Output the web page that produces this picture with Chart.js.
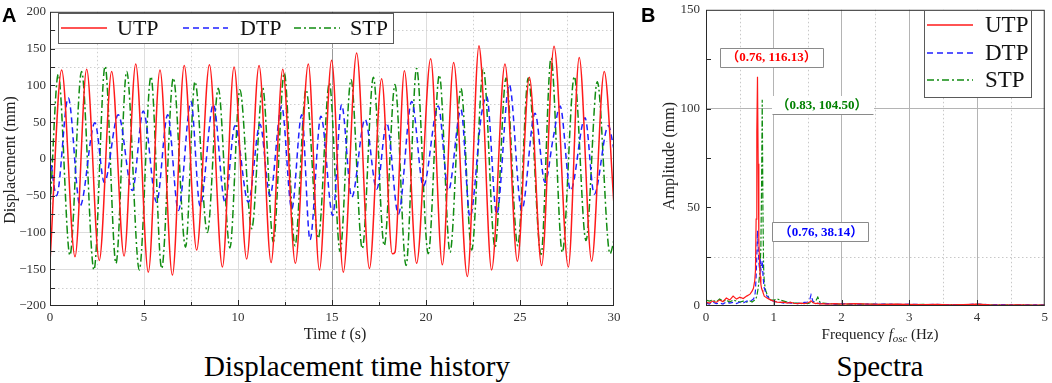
<!DOCTYPE html>
<html><head><meta charset="utf-8">
<script src="https://cdn.jsdelivr.net/npm/chart.js@4.4.0/dist/chart.umd.min.js"></script>
<style>
html,body{margin:0;padding:0;background:#fff;}
body{width:1052px;height:383px;position:relative;overflow:hidden;font-family:"Liberation Serif",serif;color:#222;}
canvas{position:absolute;}
#cA{left:0;top:0;}
#cB{left:640px;top:-4px;}
.t{position:absolute;white-space:nowrap;line-height:1;}
.lab{font-family:"Liberation Sans",Arial,sans-serif;font-weight:bold;font-size:20px;color:#000;}
.cap{font-size:29px;color:#000;transform:translateX(-50%);}
.ax{font-size:16px;color:#222;transform:translateX(-50%);}
.ay{font-size:16px;color:#222;transform:translate(-50%,-50%) rotate(-90deg);}
sub{font-size:72%;vertical-align:-0.28em;line-height:0;}
</style></head>
<body>
<canvas id="cA" width="640" height="340"></canvas>
<canvas id="cB" width="412" height="344"></canvas>
<div class="t lab" style="left:2px;top:5px;">A</div>
<div class="t lab" style="left:641px;top:5px;">B</div>
<div class="t ay" style="left:10px;top:160px;">Displacement (mm)</div>
<div class="t ay" style="left:669px;top:156px;">Amplitude (mm)</div>
<div class="t ax" style="left:335px;top:326px;">Time <i>t</i> (s)</div>
<div class="t ax" style="left:880px;top:327px;font-size:15px;">Frequency <i>f</i><sub><i>osc</i></sub> (Hz)</div>
<div class="t cap" style="left:357px;top:352px;">Displacement time history</div>
<div class="t cap" style="left:880px;top:352px;">Spectra</div>
<script>
// ---------- Panel A: displacement time history (extreme points) ----------
const seriesNames = ['UTP', 'DTP', 'STP'];

const tU = [0,0.62,1.33,1.95,2.62,3.28,3.94,4.56,5.23,5.85,6.51,7.14,7.80,8.48,9.17,9.79,10.46,11.12,11.76,12.38,13.05,13.74,14.33,14.98,15.60,16.31,16.99,17.64,18.21,18.35,18.85,19.50,20.25,20.87,21.47,22.20,22.82,22.96,23.49,24.20,24.86,25.50,26.15,26.81,27.57,28.15,28.81,29.48,30];
const vU = [-140,121,-133,122,-138,119,-132,129,-154,121,-158,127,-124,128,-147,125,-136,127,-141,122,-142,129,-151,134,-154,144,-149,109,-129,-127,120,-142,136,-144,131,-160,154,121,-151,129,-139,111,-145,153,-147,138,-139,119,-63];

const tD = [0,0.35,0.97,1.60,2.39,2.89,3.63,4.38,4.96,5.67,6.26,6.83,7.50,7.98,8.69,9.31,9.84,10.55,11.17,11.70,12.32,12.86,13.39,13.83,14.41,15.04,15.51,16.05,16.76,17.38,17.91,18.53,19.24,19.86,20.65,21.19,21.86,22.34,22.96,23.23,23.76,24.43,25.09,25.80,26.33,26.77,27.13,27.69,28.46,28.95,29.70,30];
const vD = [5,-50,83,-64,49,-32,60,-43,65,-59,60,-70,78,-64,74,-59,45,-59,47,-50,72,-68,60,-110,58,-77,74,-52,54,-41,49,-75,78,-37,72,-43,67,-79,62,85,-75,101,-70,62,-32,29,72,-43,56,-48,45,13];

const tS = [0,0.44,1.06,1.68,2.34,2.93,3.51,4.08,4.75,5.37,5.94,6.56,7.21,7.71,8.37,8.95,9.57,10.10,10.73,11.31,11.88,12.46,13.03,13.62,14.27,14.86,15.43,16.01,16.61,17.20,17.78,18.35,18.94,19.50,20.12,20.71,21.28,21.86,22.43,23.05,23.67,24.26,24.88,25.44,26.12,26.65,27.25,27.89,28.51,29.11,29.79,30];
const vS = [-70,115,-131,119,-151,126,-142,119,-151,112,-149,110,-120,105,-100,96,-121,94,-95,97,-113,117,-118,94,-108,103,-126,108,-122,111,-118,101,-145,123,-129,114,-127,96,-124,122,-120,110,-118,110,-130,137,-127,112,-111,105,-129,-110];

const timeTicks = [0, 5, 10, 15, 20, 25, 30];
const dispTicks = [-200, -150, -100, -50, 0, 50, 100, 150, 200];

// ---------- Panel B: spectra ----------
const freq = [0,0.05,0.1,0.15,0.2,0.25,0.3,0.35,0.4,0.45,0.5,0.55,0.6,0.65,
  0.68,0.7,0.72,0.73,0.74,0.75,0.76,0.77,0.78,0.79,0.8,0.81,0.82,0.83,0.84,0.85,0.86,
  0.88,0.9,0.93,0.96,1.0,1.05,1.1,1.15,1.2,1.25,
  1.3,1.35,1.4,1.45,1.5,1.53,1.55,1.58,1.62,1.65,1.68,1.72,1.8,1.9,2.0,
  2.2,2.4,2.6,2.8,3.0,3.2,3.4,3.6,3.8,4.0,4.2,4.4,4.6,4.8,5.0];
const ampU = [2,1.5,2.5,1.8,3,2.2,4,3,5,3.5,4.5,3.8,5,6,
  7.5,9,13,18,44,88,116.13,72,34,22,15,11,9,8,7,6,5,
  4.5,4,3.5,3,2.5,2,1.8,2,1.5,1.8,
  1.4,1.2,1.5,1.2,1.5,2,2.6,1.6,1.2,1.4,1,1.2,1,1.2,1,
  1.2,1,0.8,1,0.8,0.7,0.8,0.6,0.7,0.9,0.6,0.5,0.6,0.5,0.4];
const ampD = [1.5,1,2,1.2,1.5,1,2,1.5,1.8,1.2,2,1.5,2.5,2.5,
  3,3.5,5,8,15,25,38.14,30,22,19,24,18,20,23,16,12,9,
  7,5,4,3,2.5,2,1.8,1.5,1.8,1.5,
  1.5,1.2,1.5,1.8,2,3,5.6,2.2,1.5,1.2,1.5,1,1.2,1,1.2,
  1,0.9,1,0.8,0.9,0.7,0.8,0.7,0.6,1,0.6,0.7,0.5,0.6,0.5];
const ampS = [3,2.5,3,2,3.5,2.5,3,2,3,2.5,2,2.5,2,2.5,
  2,2.5,3,3.5,4,5,7,9,12,15,20,30,60,104.5,50,20,12,
  8,6,4,3,3,3.5,3,2.5,2,1.8,
  1.5,1.5,1.2,1.5,1.2,1.5,2,2,2.5,4.5,2,1.5,1.2,1,1,
  0.9,1,0.8,0.8,0.7,0.8,0.6,0.7,0.6,0.8,0.6,0.5,0.6,0.5,0.5];
const peakLabels = ['（0.76, 116.13）', '（0.83, 104.50）', '（0.76, 38.14）'];

const COLORS = ['#ff1a1a', '#1f1fff', '#118c11'];
const pts = (xs, ys) => xs.map((x, i) => ({x: x, y: ys[i]}));
const minus = v => (v < 0 ? '\u2212' + Math.abs(v) : String(v));
const tickFont = {family: '"Liberation Serif", serif', size: 13};

const deco = {
  id: 'deco',
  beforeDatasetsDraw(chart, args, o) {
    const {ctx, chartArea: a, scales} = chart;
    ctx.save();
    ctx.strokeStyle = o.minorColor; ctx.lineWidth = 1; ctx.setLineDash([1.5, 2.5]);
    ctx.beginPath();
    for (const v of o.xMinor) { const p = Math.round(scales.x.getPixelForValue(v)) + 0.5; ctx.moveTo(p, a.top); ctx.lineTo(p, a.bottom); }
    for (const v of o.yMinor) { const p = Math.round(scales.y.getPixelForValue(v)) + 0.5; ctx.moveTo(a.left, p); ctx.lineTo(a.right, p); }
    ctx.stroke();
    ctx.restore();
  },
  afterDatasetsDraw(chart, args, o) {
    const {ctx, chartArea: a, scales} = chart;
    ctx.save();
    ctx.setLineDash([]);
    ctx.strokeStyle = '#2a2a2a'; ctx.lineWidth = 1;
    ctx.strokeRect(a.left + 0.5, a.top + 0.5, a.width - 1, a.height - 1);
    ctx.beginPath();
    for (const [v, len] of o.xTicks) { const p = Math.round(scales.x.getPixelForValue(v)) + 0.5; ctx.moveTo(p, a.bottom); ctx.lineTo(p, a.bottom - len); }
    for (const [v, len] of o.yTicks) { const p = Math.round(scales.y.getPixelForValue(v)) + 0.5; ctx.moveTo(a.left, p); ctx.lineTo(a.left + len, p); }
    ctx.stroke();
    for (const b of (o.boxes || [])) {
      ctx.fillStyle = '#fff'; ctx.fillRect(b.x, b.y, b.w, b.h);
      ctx.strokeStyle = '#8a8a8a'; ctx.beginPath();
      const x0 = b.x + 0.5, y0 = b.y + 0.5, x1 = b.x + b.w - 0.5, y1 = b.y + b.h - 0.5;
      if (b.sides.includes('t')) { ctx.moveTo(x0, y0); ctx.lineTo(x1, y0); }
      if (b.sides.includes('b')) { ctx.moveTo(x0, y1); ctx.lineTo(x1, y1); }
      if (b.sides.includes('l')) { ctx.moveTo(x0, y0); ctx.lineTo(x0, y1); }
      if (b.sides.includes('r')) { ctx.moveTo(x1, y0); ctx.lineTo(x1, y1); }
      ctx.stroke();
      if (b.text) {
        ctx.fillStyle = b.color; ctx.font = 'bold 13px "Liberation Serif", "Noto Sans CJK SC", serif';
        ctx.textAlign = 'center'; ctx.textBaseline = 'middle';
        ctx.fillText(b.text, b.tx, b.ty);
      }
    }
    const L = o.legend;
    if (L) {
      ctx.fillStyle = '#fff'; ctx.fillRect(L.x, L.y, L.w, L.h);
      ctx.strokeStyle = '#5a5a5a'; ctx.lineWidth = 1;
      ctx.strokeRect(L.x + 0.5, L.y + 0.5, L.w - 1, L.h - 1);
      chart.data.datasets.forEach((ds, i) => {
        const it = L.items[i];
        ctx.strokeStyle = ds.borderColor; ctx.lineWidth = 1.5;
        ctx.setLineDash(L.dashes[i]);
        ctx.beginPath(); ctx.moveTo(it[0], it[2]); ctx.lineTo(it[1], it[2]); ctx.stroke();
        ctx.setLineDash([]);
        ctx.fillStyle = '#111'; ctx.font = L.font; ctx.textAlign = 'left'; ctx.textBaseline = 'middle';
        ctx.fillText(ds.label, it[3], it[2] + 1);
      });
    }
    ctx.restore();
  }
};

const range = (a, b, s) => { const r = []; for (let v = a; v <= b + 1e-9; v += s) r.push(+v.toFixed(4)); return r; };

new Chart(document.getElementById('cA'), {
  type: 'line',
  data: {
    datasets: [
      {label: seriesNames[0], data: pts(tU, vU), borderColor: COLORS[0], borderWidth: 1.5, borderDash: []},
      {label: seriesNames[1], data: pts(tD, vD), borderColor: COLORS[1], borderWidth: 1.5, borderDash: [6, 4]},
      {label: seriesNames[2], data: pts(tS, vS), borderColor: COLORS[2], borderWidth: 1.5, borderDash: [8, 3, 2, 3]}
    ]
  },
  options: {
    responsive: false, animation: false, devicePixelRatio: 1,
    layout: {padding: {left: 0, top: 10, right: 26, bottom: 0}},
    elements: {point: {radius: 0}, line: {tension: 0.4, cubicInterpolationMode: 'monotone', fill: false}},
    plugins: {
      legend: {display: false}, tooltip: {enabled: false},
      deco: {
        minorColor: '#cfcfcf',
        xMinor: range(2.5, 27.5, 5),
        yMinor: [-175, -125, -75, -25, 25, 75, 125, 175],
        xTicks: range(2.5, 27.5, 2.5).map(v => [v, (v % 5 === 0) ? 6 : 4]),
        yTicks: range(-175, 175, 25).map(v => [v, 5]),
        legend: {x: 58, y: 13, w: 336, h: 31, font: '22px "Liberation Serif", serif',
          dashes: [[], [6, 4], [7, 3, 2, 3]],
          items: [[61, 107, 28, 117], [183, 228, 28, 240], [294, 340, 28, 350]]}
      }
    },
    scales: {
      x: {type: 'linear', min: 0, max: 30,
        afterBuildTicks: s => { s.ticks = timeTicks.map(v => ({value: v})); },
        afterFit: s => { s.height = 34; },
        ticks: {font: tickFont, color: '#333', padding: 4, maxRotation: 0},
        grid: {drawTicks: false, color: c => (c.tick && c.tick.value === 15) ? '#9a9a9a' : ((c.tick && (c.tick.value === 0 || c.tick.value === 30)) ? 'rgba(0,0,0,0)' : '#dddddd')},
        border: {display: false}},
      y: {type: 'linear', min: -200, max: 200,
        afterBuildTicks: s => { s.ticks = dispTicks.map(v => ({value: v})); },
        afterFit: s => { s.width = 50; },
        ticks: {font: tickFont, color: '#333', padding: 4, callback: v => minus(v)},
        grid: {drawTicks: false, color: c => (c.tick && Math.abs(c.tick.value) === 200) ? 'rgba(0,0,0,0)' : '#dddddd'},
        border: {display: false}}
    }
  },
  plugins: [deco]
});

new Chart(document.getElementById('cB'), {
  type: 'line',
  data: {
    datasets: [
      {label: seriesNames[0], data: pts(freq, ampU), borderColor: COLORS[0], borderWidth: 1.2, borderDash: []},
      {label: seriesNames[1], data: pts(freq, ampD), borderColor: COLORS[1], borderWidth: 1.2, borderDash: [5, 3]},
      {label: seriesNames[2], data: pts(freq, ampS), borderColor: COLORS[2], borderWidth: 1.2, borderDash: [6, 2, 2, 2]}
    ]
  },
  options: {
    responsive: false, animation: false, devicePixelRatio: 1,
    layout: {padding: {left: 0, top: 10, right: 4, bottom: 0}},
    elements: {point: {radius: 0}, line: {tension: 0, fill: false}},
    plugins: {
      legend: {display: false}, tooltip: {enabled: false},
      deco: {
        minorColor: '#c8c8c8',
        xMinor: [0.5, 1.5, 2.5, 3.5, 4.5],
        yMinor: [25],
        xTicks: [1, 2, 3, 4].map(v => [v, 6]),
        yTicks: [25, 50, 75, 100, 125].map(v => [v, 5]),
        boxes: [
          {x: 80, y: 52, w: 104, h: 20, sides: 'tblr', text: peakLabels[0], color: '#ff0000', tx: 131.5, ty: 62},
          {x: 132, y: 100, w: 102, h: 19, sides: 'b', text: peakLabels[1], color: '#008000', tx: 182, ty: 110},
          {x: 132, y: 226, w: 97, h: 20, sides: 'tblr', text: peakLabels[2], color: '#0000ff', tx: 181, ty: 236.5}
        ],
        legend: {x: 284, y: 14, w: 108, h: 88, font: '23px "Liberation Serif", serif',
          dashes: [[], [6, 4], [7, 3, 2, 3]],
          items: [[287, 333, 29, 345], [287, 333, 57, 345], [287, 333, 84, 345]]}
      }
    },
    scales: {
      x: {type: 'linear', min: 0, max: 5,
        ticks: {font: tickFont, color: '#333', padding: 4, stepSize: 1, maxRotation: 0},
        afterFit: s => { s.height = 34; },
        grid: {drawTicks: false, color: c => (c.tick && c.tick.value > 0 && c.tick.value < 5) ? '#b4b4b4' : 'rgba(0,0,0,0)'},
        border: {display: false}},
      y: {type: 'linear', min: 0, max: 150,
        ticks: {font: tickFont, color: '#333', padding: 6, stepSize: 50},
        afterFit: s => { s.width = 66; },
        grid: {drawTicks: false, color: c => (c.tick && c.tick.value === 100) ? '#b4b4b4' : 'rgba(0,0,0,0)'},
        border: {display: false}}
    }
  },
  plugins: [deco]
});
</script>
</body></html>
